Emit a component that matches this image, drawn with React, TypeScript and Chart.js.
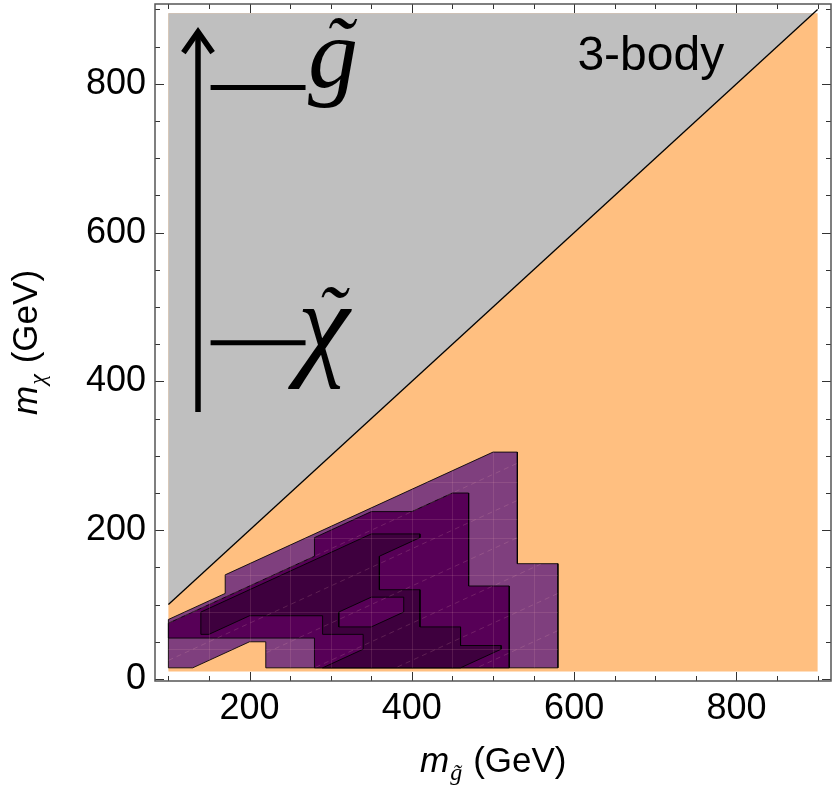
import React, { useEffect, useRef } from "react";
import { Chart, registerables } from "chart.js";

Chart.register(...registerables);

// ---- axis ticks ----
const xTickLabels = [200, 400, 600, 800];
const yTickLabels = [0, 200, 400, 600, 800];
const xMinorTicks = [100, 150, 200, 250, 300, 350, 400, 450, 500, 550, 600, 650, 700, 750, 800, 850, 900];
const yMinorTicks = [0, 50, 100, 150, 200, 250, 300, 350, 400, 450, 500, 550, 600, 650, 700, 750, 800, 850, 900];

// ---- regions (m_gluino, m_chi) ----
const allowedRegion: number[][] = [[100, 10], [900, 10], [900, 895], [100, 895]];
const threeBodyRegion: number[][] = [[100, 100], [895, 895], [100, 895]];
const kinematicLine: number[][] = [[100, 100], [900, 900]];
const outerExclusion: number[][] = [
  [100, 80], [170, 115], [170, 140], [500, 305], [530, 305], [530, 155], [580, 155],
  [580, 15], [220, 15], [220, 50], [200, 50], [130, 15], [100, 15],
];
const middleExclusion: number[][] = [
  [100, 75], [280, 165], [280, 190], [350, 225], [400, 225], [450, 250], [470, 250],
  [470, 125], [520, 125], [520, 15], [280, 15], [280, 55], [100, 55],
];
const innerExclusion: number[][] = [
  [140, 90], [350, 195], [410, 195], [410, 190], [360, 165], [360, 120], [410, 120],
  [410, 70], [460, 70], [460, 45], [510, 45], [510, 40], [460, 15], [290, 15],
  [340, 40], [340, 60], [290, 60], [290, 85], [200, 85], [150, 60], [140, 60],
];
const middleIsland: number[][] = [
  [310, 90], [310, 70], [350, 70], [390, 90], [390, 110], [350, 110],
];

// ---- faint mesh inside the exclusion regions ----
const meshX = [150, 200, 250, 300, 350, 400, 450, 500, 550];
const meshY = [40, 90, 140, 190, 215, 265];
const meshDiagIntercepts = [-275, -225, -175, -125, -75, -25, 25, 75];

// ---- spectrum sketch ----
const arrowShaft: number[][] = [[136.5, 359], [136.5, 866]];
const arrowHead: number[][] = [[118.5, 842], [136.5, 870], [154.5, 842]];
const gluinoLevel: number[][] = [[152, 795], [269, 795]];
const chiLevel: number[][] = [[152, 452], [269, 452]];

const toPts = (a: number[][], close = false) => {
  const p = a.map(([x, y]) => ({ x, y }));
  if (close) p.push({ x: a[0][0], y: a[0][1] });
  return p;
};

const polygon = (data: number[][], color: string, order: number, border = "rgba(0,0,0,0.85)", bw = 1) => ({
  data: toPts(data, true),
  backgroundColor: color,
  borderColor: border,
  borderWidth: bw,
  fill: "shape" as const,
  pointRadius: 0,
  tension: 0,
  order,
});

const stroke = (data: number[][], width: number, order: number) => ({
  data: toPts(data),
  borderColor: "#000",
  borderWidth: width,
  fill: false,
  pointRadius: 0,
  tension: 0,
  borderCapStyle: "butt" as const,
  borderJoinStyle: "miter" as const,
  order,
});

const noPad = (s: any) => {
  s.paddingTop = 0;
  s.paddingBottom = 0;
  s.paddingLeft = 0;
  s.paddingRight = 0;
};

const meshPlugin = {
  id: "mesh",
  afterDatasetsDraw(chart: any) {
    const { ctx, scales } = chart;
    const x = scales.x;
    const y = scales.y;
    ctx.save();
    ctx.beginPath();
    outerExclusion.forEach(([vx, vy], i) => {
      const px = x.getPixelForValue(vx);
      const py = y.getPixelForValue(vy);
      if (i === 0) ctx.moveTo(px, py);
      else ctx.lineTo(px, py);
    });
    ctx.closePath();
    ctx.clip();
    ctx.lineWidth = 1;
    ctx.strokeStyle = "rgba(255,190,190,0.13)";
    for (const v of meshX) {
      const px = Math.round(x.getPixelForValue(v)) + 0.5;
      ctx.beginPath();
      ctx.moveTo(px, y.getPixelForValue(0));
      ctx.lineTo(px, y.getPixelForValue(320));
      ctx.stroke();
    }
    for (const v of meshY) {
      const py = Math.round(y.getPixelForValue(v)) + 0.5;
      ctx.beginPath();
      ctx.moveTo(x.getPixelForValue(90), py);
      ctx.lineTo(x.getPixelForValue(600), py);
      ctx.stroke();
    }
    ctx.setLineDash([5, 4]);
    ctx.strokeStyle = "rgba(255,190,190,0.17)";
    for (const c of meshDiagIntercepts) {
      ctx.beginPath();
      ctx.moveTo(x.getPixelForValue(90), y.getPixelForValue(45 + c));
      ctx.lineTo(x.getPixelForValue(600), y.getPixelForValue(300 + c));
      ctx.stroke();
    }
    ctx.restore();
  },
};

const overlay = {
  id: "overlay",
  afterDraw(chart: any) {
    const { ctx, chartArea: a, scales } = chart;
    const x = scales.x;
    const y = scales.y;
    ctx.save();
    // ticks (inward, all four sides)
    ctx.strokeStyle = "#333";
    ctx.lineWidth = 1;
    const seg = (x1: number, y1: number, x2: number, y2: number) => {
      ctx.beginPath();
      ctx.moveTo(x1, y1);
      ctx.lineTo(x2, y2);
      ctx.stroke();
    };
    for (const v of xMinorTicks) {
      const px = Math.round(x.getPixelForValue(v)) + 0.5;
      const len = xTickLabels.includes(v) ? 9 : 5;
      seg(px, a.bottom, px, a.bottom - len);
      seg(px, a.top, px, a.top + len);
    }
    for (const v of yMinorTicks) {
      const py = Math.round(y.getPixelForValue(v)) + 0.5;
      const len = yTickLabels.includes(v) ? 9 : 5;
      seg(a.left, py, a.left + len, py);
      seg(a.right, py, a.right - len, py);
    }
    // frame
    ctx.strokeStyle = "#555";
    ctx.lineWidth = 1.5;
    ctx.strokeRect(a.left, a.top, a.right - a.left, a.bottom - a.top);

    ctx.fillStyle = "#000";
    ctx.textBaseline = "alphabetic";
    ctx.textAlign = "left";
    // 3-body label
    ctx.font = '48px "Liberation Sans"';
    ctx.fillText("3-body", x.getPixelForValue(604), y.getPixelForValue(818));

    // particle labels: gluino and neutralino with tildes
    const gx = x.getPixelForValue(272);
    const gy = y.getPixelForValue(796);
    ctx.font = 'italic 100px "Liberation Serif"';
    ctx.fillText("g", gx, gy);
    const cx = x.getPixelForValue(259);
    const cy = y.getPixelForValue(423);
    ctx.font = 'italic 118px "Liberation Serif"';
    ctx.fillText("\u03C7", cx, cy);
    ctx.textAlign = "center";
    ctx.font = 'italic 84px "Liberation Serif"';
    ctx.fillText("\u02DC", gx + 30, gy - 12);
    ctx.fillText("\u02DC", cx + 33, cy - 20);
    ctx.textAlign = "left";

    // x axis title
    const bx = 420;
    const by = 772;
    ctx.font = 'italic 35px "Liberation Sans"';
    ctx.fillText("m", bx, by);
    let w = ctx.measureText("m").width;
    ctx.font = 'italic 24px "Liberation Serif"';
    ctx.fillText("g\u0303", bx + w + 1, by + 8);
    w += ctx.measureText("g\u0303").width + 12;
    ctx.font = '35px "Liberation Sans"';
    ctx.fillText("(GeV)", bx + w, by);

    // y axis title (rotated)
    ctx.translate(37, 415);
    ctx.rotate(-Math.PI / 2);
    ctx.font = 'italic 35px "Liberation Sans"';
    ctx.fillText("m", 0, 0);
    w = ctx.measureText("m").width;
    ctx.font = 'italic 24px "Liberation Serif"';
    ctx.fillText("\u03C7", w + 1, 8);
    w += ctx.measureText("\u03C7").width + 12;
    ctx.font = '35px "Liberation Sans"';
    ctx.fillText("(GeV)", w, 0);
    ctx.restore();
  },
};

export default function App() {
  const ref = useRef<HTMLCanvasElement>(null);
  useEffect(() => {
    if (!ref.current) return;
    const chart = new Chart(ref.current, {
      type: "line",
      data: {
        datasets: [
          stroke(arrowHead, 5.5, 1),
          stroke(arrowShaft, 5.5, 1),
          stroke(gluinoLevel, 5, 1),
          stroke(chiLevel, 5, 1),
          polygon(middleIsland, "#570057", 2),
          polygon(innerExclusion, "#3e003e", 3),
          polygon(middleExclusion, "#570057", 4),
          polygon(outerExclusion, "#7f3f7e", 5),
          stroke(kinematicLine, 1.3, 6),
          polygon(threeBodyRegion, "#bfbfbf", 7, "rgba(0,0,0,0)", 0),
          polygon(allowedRegion, "#ffbf80", 8, "rgba(0,0,0,0)", 0),
        ] as any,
      },
      options: {
        responsive: false,
        animation: false,
        events: [],
        layout: { padding: { top: 4, right: 6, left: 0, bottom: 0 } },
        plugins: { legend: { display: false }, tooltip: { enabled: false } },
        scales: {
          x: {
            type: "linear",
            min: 83.5,
            max: 916.5,
            grid: { display: false, drawTicks: false },
            border: { display: false },
            afterBuildTicks: (s: any) => {
              s.ticks = xTickLabels.map((v) => ({ value: v }));
            },
            afterFit: (s: any) => {
              s.height = 107;
              noPad(s);
            },
            ticks: {
              padding: 6,
              color: "#000",
              font: { family: "Liberation Sans", size: 36 },
              maxRotation: 0,
              autoSkip: false,
            },
          },
          y: {
            type: "linear",
            min: -2.7,
            max: 907.3,
            grid: { display: false, drawTicks: false },
            border: { display: false },
            afterBuildTicks: (s: any) => {
              s.ticks = yTickLabels.map((v) => ({ value: v }));
            },
            afterFit: (s: any) => {
              s.width = 155;
              noPad(s);
            },
            ticks: {
              padding: 9,
              color: "#000",
              font: { family: "Liberation Sans", size: 36 },
              autoSkip: false,
            },
          },
        },
      },
      plugins: [meshPlugin, overlay],
    } as any);
    return () => chart.destroy();
  }, []);
  return (
    <div style={{ position: "fixed", left: 0, top: 0, width: 837, height: 788, background: "#fff" }}>
      <canvas ref={ref} width={837} height={788} style={{ display: "block" }} />
    </div>
  );
}
